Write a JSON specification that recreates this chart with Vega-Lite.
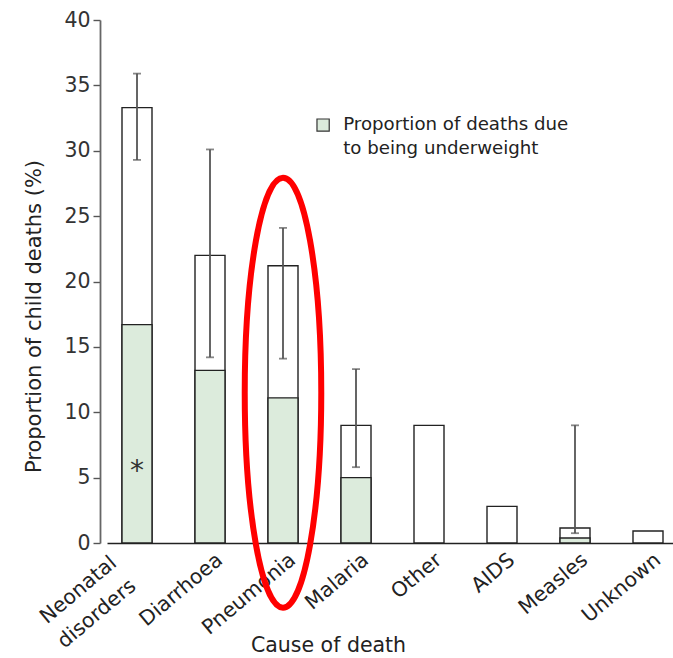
{
  "$schema": "https://vega.github.io/schema/vega-lite/v6.json",
  "width": 566,
  "height": 523,
  "autosize": "none",
  "padding": {"left": 107, "top": 20, "right": 0, "bottom": 115},
  "background": "white",
  "config": {
    "font": "DejaVu Sans",
    "view": {"stroke": null}
  },
  "data": {
    "values": [
      {"cause": "Neonatal disorders", "total": 33.3, "under": 16.7, "lo": 29.3, "hi": 35.9, "star": 6.1},
      {"cause": "Diarrhoea", "total": 22.0, "under": 13.2, "lo": 14.2, "hi": 30.1},
      {"cause": "Pneumonia", "total": 21.2, "under": 11.1, "lo": 14.1, "hi": 24.1, "ring": 11.5},
      {"cause": "Malaria", "total": 9.0, "under": 5.0, "lo": 5.8, "hi": 13.3},
      {"cause": "Other", "total": 9.0},
      {"cause": "AIDS", "total": 2.8},
      {"cause": "Measles", "total": 1.15, "under": 0.38, "lo": 0.75, "hi": 9.0},
      {"cause": "Unknown", "total": 0.92}
    ]
  },
  "encoding": {
    "x": {
      "field": "cause",
      "type": "nominal",
      "sort": null,
      "scale": {"range": [0, 571], "paddingInner": 0.589, "paddingOuter": 0.2055},
      "axis": {
        "title": "Cause of death",
        "titleFont": "DejaVu Sans",
        "titleFontSize": 20.5,
        "titleFontWeight": "normal",
        "titleColor": "#222",
        "titleX": 221,
        "titleY": 102,
        "titleAnchor": "middle",
        "titleAlign": "center",
        "titleBaseline": "middle",
        "labelAngle": -40,
        "labelAlign": "right",
        "labelBaseline": "middle",
        "labelFontSize": 20.5,
        "labelColor": "#222",
        "labelPadding": {"condition": {"test": "datum.value == 'Neonatal disorders'", "value": 17}, "value": 14},
        "labelOffset": {"condition": {"test": "datum.value == 'Neonatal disorders'", "value": -23}, "value": 10},
        "labelLineHeight": 30,
        "labelExpr": "datum.value == 'Neonatal disorders' ? ['Neonatal', 'disorders'] : datum.label",
        "ticks": false,
        "domainColor": "#222",
        "domainWidth": 1.5,
        "grid": false
      }
    }
  },
  "layer": [
    {
      "mark": {"type": "bar", "fill": "white", "stroke": "#222", "strokeWidth": 1.4},
      "encoding": {
        "y": {
          "field": "total",
          "type": "quantitative",
          "scale": {"domain": [0, 40], "nice": false},
          "axis": {
            "title": "Proportion of child deaths (%)",
            "titleFont": "DejaVu Sans",
            "titleFontSize": 21,
            "titleFontWeight": "normal",
            "titleColor": "#222",
            "titleX": -66,
            "titleY": 296,
            "titleAlign": "center",
            "titleAngle": -90,
            "titleBaseline": "middle",
            "values": [0, 5, 10, 15, 20, 25, 30, 35, 40],
            "labelFontSize": 20.5,
            "labelColor": "#333",
            "labelPadding": 3,
            "tickSize": 7,
            "tickColor": "#555",
            "tickWidth": 1.4,
            "domainColor": "#666",
            "domainWidth": 1.8,
            "offset": 7,
            "grid": false
          }
        }
      }
    },
    {
      "transform": [{"filter": "isValid(datum.under)"}],
      "mark": {"type": "bar", "stroke": "#222", "strokeWidth": 1.4},
      "encoding": {
        "y": {"field": "under", "type": "quantitative"},
        "fill": {
          "datum": "Proportion of deaths due to being underweight",
          "type": "nominal",
          "scale": {"range": ["#dcebdc"]},
          "legend": {
            "title": null,
            "orient": "none",
            "legendX": 207,
            "legendY": 96,
            "symbolType": "square",
            "symbolSize": 150,
            "symbolStrokeColor": "#333",
            "symbolStrokeWidth": 1.2,
            "labelFont": "DejaVu Sans",
            "labelFontSize": 18.2,
            "labelColor": "#222",
            "labelOffset": 11,
            "labelLimit": 400,
            "labelBaseline": "middle",
            "labelExpr": "['Proportion of deaths due', 'to being underweight']",
            "encode": {"labels": {"update": {"lineHeight": {"value": 24}}}}
          }
        }
      }
    },
    {
      "transform": [{"filter": "isValid(datum.lo)"}],
      "mark": {"type": "rule", "color": "#555", "strokeWidth": 1.8},
      "encoding": {
        "y": {"field": "lo", "type": "quantitative"},
        "y2": {"field": "hi"}
      }
    },
    {
      "transform": [{"filter": "isValid(datum.lo)"}],
      "mark": {"type": "tick", "color": "#555", "thickness": 1.8, "size": 8},
      "encoding": {"y": {"field": "lo", "type": "quantitative"}}
    },
    {
      "transform": [{"filter": "isValid(datum.hi)"}],
      "mark": {"type": "tick", "color": "#555", "thickness": 1.8, "size": 8},
      "encoding": {"y": {"field": "hi", "type": "quantitative"}}
    },
    {
      "transform": [{"filter": "isValid(datum.star)"}],
      "mark": {"type": "text", "text": "*", "fontSize": 28, "color": "#333", "baseline": "middle", "dy": 9},
      "encoding": {"y": {"field": "star", "type": "quantitative"}}
    },
    {
      "transform": [{"filter": "isValid(datum.ring)"}],
      "mark": {
        "type": "point",
        "shape": "M -0.178,0 A 0.178,1 0 1,1 0.178,0 A 0.178,1 0 1,1 -0.178,0 Z",
        "size": 184900,
        "filled": false,
        "stroke": "#ff0000",
        "strokeWidth": 6,
        "opacity": 1,
        "clip": false
      },
      "encoding": {"y": {"field": "ring", "type": "quantitative"}}
    }
  ]
}
